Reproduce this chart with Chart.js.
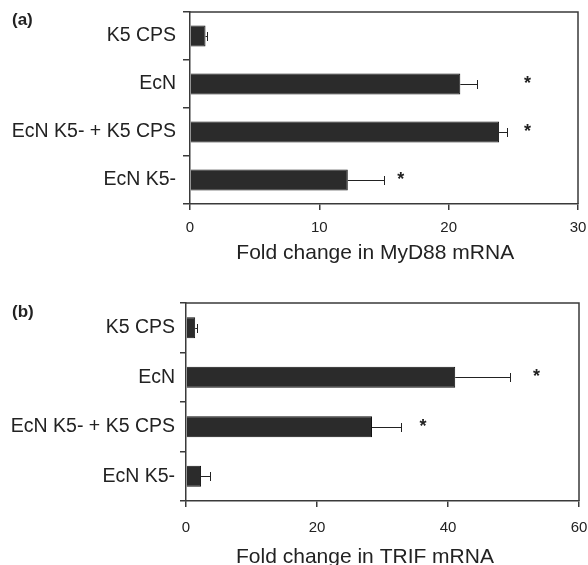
<!DOCTYPE html>
<html><head><meta charset="utf-8">
<script src="https://cdn.jsdelivr.net/npm/chart.js@4"></script>
<style>
html,body{margin:0;padding:0;background:#fff;overflow:hidden;width:588px;height:565px}
#wa{position:absolute;left:0;top:0;width:588px;height:282px}
#wb{position:absolute;left:0;top:282px;width:588px;height:300px}
.lbl{position:absolute;left:12px;font:bold 17px 'Liberation Sans',Arial,sans-serif;line-height:17px;color:#222}
</style></head><body>
<div id="wa"><canvas id="ca" width="588" height="282"></canvas></div>
<div id="wb"><canvas id="cb" width="588" height="300"></canvas></div>
<div class="lbl" style="top:11px">(a)</div>
<div class="lbl" style="top:303px">(b)</div>
<script>
const categories = ['K5 CPS', 'EcN', 'EcN K5- + K5 CPS', 'EcN K5-'];
const myd88Values = [1.2, 20.9, 23.9, 12.2];
const myd88Errors = [0.12, 1.3, 0.6, 2.8];
const myd88Stars = [null, 26.1, 26.1, 16.3];
const myd88Ticks = [0, 10, 20, 30];
const trifValues = [1.4, 41.1, 28.4, 2.3];
const trifErrors = [0.35, 8.3, 4.4, 1.3];
const trifStars = [null, 53.5, 36.2, null];
const trifTicks = [0, 20, 40, 60];

const FONT = "'Liberation Sans', Arial, sans-serif";
const TXT = '#222';
const AXIS = '#3a3a3a';
const NB = '\u00a0';

const extrasPlugin = {
  id: 'extras',
  afterDatasetsDraw(chart) {
    const ctx = chart.ctx;
    const ds = chart.data.datasets[0];
    const meta = chart.getDatasetMeta(0);
    const xs = chart.scales.x;
    const a = chart.chartArea;
    ctx.save();
    ctx.strokeStyle = AXIS; ctx.lineWidth = 1.5;
    ctx.beginPath();
    ctx.moveTo(a.left, a.top); ctx.lineTo(a.right, a.top); ctx.lineTo(a.right, a.bottom);
    ctx.stroke();
    meta.data.forEach((bar, i) => {
      const v = ds.data[i], e = ds.errors[i];
      const y = Math.round(bar.y);
      const x0 = xs.getPixelForValue(v), x1 = Math.round(xs.getPixelForValue(v + e));
      ctx.strokeStyle = '#222'; ctx.lineWidth = 1;
      ctx.beginPath();
      ctx.moveTo(x0, y + 0.5); ctx.lineTo(x1, y + 0.5);
      ctx.moveTo(x1 + 0.5, y - 4); ctx.lineTo(x1 + 0.5, y + 5);
      ctx.stroke();
      const s = ds.stars[i];
      if (s != null) {
        ctx.fillStyle = '#222';
        ctx.font = 'bold 18px ' + FONT;
        ctx.textAlign = 'center'; ctx.textBaseline = 'middle';
        ctx.fillText('*', xs.getPixelForValue(s), y);
      }
    });
    ctx.restore();
  }
};

function zeroPad(s) { s.paddingTop = 0; s.paddingBottom = 0; s.paddingLeft = 0; s.paddingRight = 0; }

function makeChart(id, values, errors, stars, ticks, title, geo) {
  return new Chart(document.getElementById(id), {
    type: 'bar',
    data: {
      labels: categories,
      datasets: [{
        data: values, errors: errors, stars: stars,
        backgroundColor: '#2b2b2b', borderColor: '#111', borderWidth: 1,
        barPercentage: geo.bp, categoryPercentage: 1
      }]
    },
    options: {
      indexAxis: 'y', responsive: false, animation: false, events: [],
      layout: { autoPadding: false, padding: { left: 0, right: geo.pr, top: geo.pt, bottom: 0 } },
      plugins: { legend: { display: false }, tooltip: { enabled: false } },
      scales: {
        x: {
          type: 'linear', min: ticks[0], max: ticks[ticks.length - 1],
          afterBuildTicks: s => { s.ticks = ticks.map(v => ({ value: v })); },
          afterFit: s => { s.height = geo.xh; zeroPad(s); },
          grid: { drawOnChartArea: false, drawTicks: true, tickLength: 6, color: AXIS, lineWidth: 1.5 },
          border: { color: AXIS, width: 1.5 },
          ticks: { padding: geo.xtp, font: { family: FONT, size: 15 }, color: TXT, maxRotation: 0 },
          title: { display: true, text: title + NB.repeat(geo.nb), font: { family: FONT, size: 21 }, color: TXT, padding: { top: 0, bottom: geo.tpb } }
        },
        y: {
          afterFit: s => { s.width = geo.yw; zeroPad(s); },
          grid: { drawOnChartArea: false, offset: true, tickLength: geo.ytl, color: AXIS, lineWidth: 1.5 },
          border: { color: AXIS, width: 1.5 },
          ticks: { padding: geo.ytp, font: { family: FONT, size: 19.5 }, color: TXT }
        }
      }
    },
    plugins: [extrasPlugin]
  });
}

makeChart('ca', myd88Values, myd88Errors, myd88Stars, myd88Ticks, 'Fold change in MyD88 mRNA',
  { bp: 0.44, pr: 10, pt: 12, xh: 78, xtp: 9, tpb: 16, yw: 190, ytl: 7, ytp: 7, nb: 3 });
makeChart('cb', trifValues, trifErrors, trifStars, trifTicks, 'Fold change in TRIF mRNA',
  { bp: 0.42, pr: 9, pt: 21, xh: 81, xtp: 12, tpb: 12, yw: 186, ytl: 6, ytp: 5, nb: 6 });
</script>
</body></html>
